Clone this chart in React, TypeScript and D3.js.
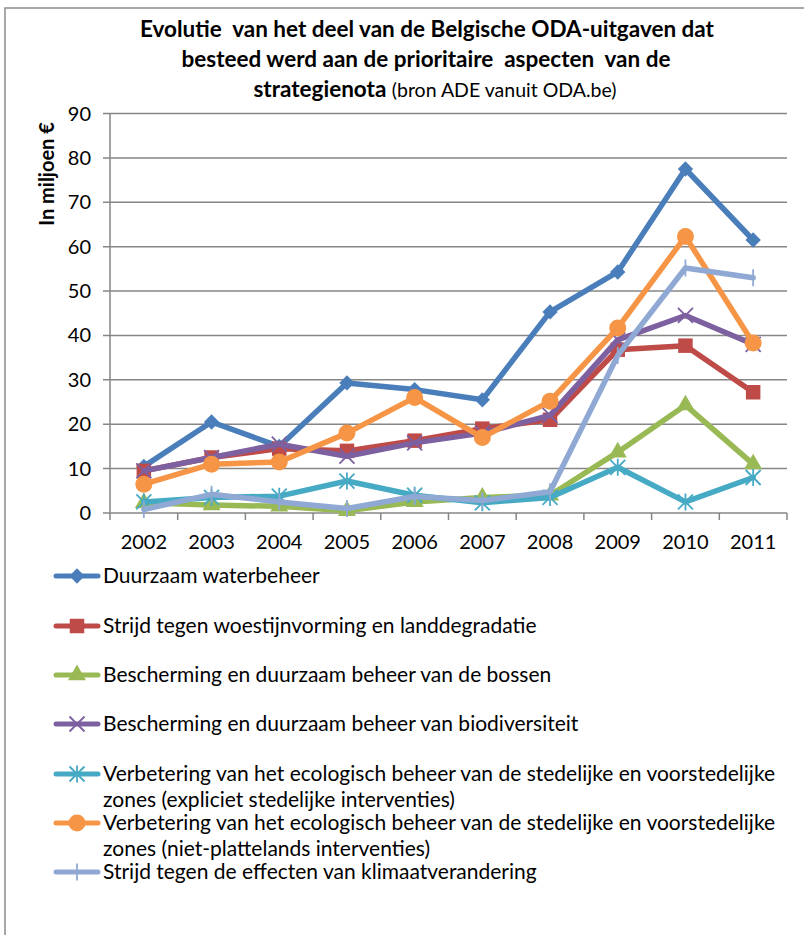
import React, { useEffect, useRef } from "react";
import * as d3 from "d3";

const years = ["2002", "2003", "2004", "2005", "2006", "2007", "2008", "2009", "2010", "2011"];
const yTicks = [0, 10, 20, 30, 40, 50, 60, 70, 80, 90];

const waterbeheer = [10.5, 20.5, 15, 29.3, 27.8, 25.5, 45.3, 54.3, 77.5, 61.5];
const woestijnvorming = [9.5, 12.5, 14.5, 14, 16.3, 19, 21, 36.8, 37.7, 27.2];
const bossen = [2.3, 1.8, 1.5, 0.5, 2.5, 3.5, 4, 13.7, 24.3, 11];
const biodiversiteit = [9.5, 12.5, 15.5, 12.8, 15.8, 18, 22, 39, 44.5, 38];
const stedelijk = [2.5, 3.5, 3.8, 7.2, 4, 2.3, 3.5, 10.3, 2.5, 8];
const nietPlatteland = [6.5, 11, 11.5, 18, 26, 17, 25.2, 41.7, 62.3, 38.3];
const klimaat = [0.8, 4.2, 2.5, 1, 3.7, 2.8, 4.8, 35.5, 55.2, 53];

const seriesNames = [
  ["Duurzaam waterbeheer"],
  ["Strijd tegen woestijnvorming en landdegradatie"],
  ["Bescherming en duurzaam beheer van de bossen"],
  ["Bescherming en duurzaam beheer van biodiversiteit"],
  ["Verbetering van het ecologisch beheer van de stedelijke en voorstedelijke", "zones (expliciet stedelijke interventies)"],
  ["Verbetering van het ecologisch beheer van de stedelijke en voorstedelijke", "zones (niet-plattelands interventies)"],
  ["Strijd tegen de effecten van klimaatverandering"],
];
const seriesValues = [waterbeheer, woestijnvorming, bossen, biodiversiteit, stedelijk, nietPlatteland, klimaat];
const seriesColors = ["#4A7EBB", "#BE4B48", "#98B954", "#7D60A0", "#46AAC5", "#F69545", "#8FA9D4"];
const seriesMarkers = ["diamond", "square", "triangle", "x", "star", "circle", "plus"];

const FONT = "Lato, 'Open Sans', sans-serif";

function drawMarker(g: any, kind: string, cx: number, cy: number, color: string) {
  const s = g.append("g").attr("transform", `translate(${cx},${cy})`);
  if (kind === "diamond") {
    s.append("path").attr("d", d3.symbol(d3.symbolDiamond2, 150)()).attr("fill", color);
  } else if (kind === "square") {
    s.append("path").attr("d", d3.symbol(d3.symbolSquare, 210)()).attr("fill", color);
  } else if (kind === "triangle") {
    s.append("path").attr("d", d3.symbol(d3.symbolTriangle, 140)()).attr("fill", color);
  } else if (kind === "circle") {
    s.append("circle").attr("r", 8.5).attr("fill", color);
  } else if (kind === "x") {
    s.append("path").attr("d", "M-7.5,-7.5L7.5,7.5M-7.5,7.5L7.5,-7.5").attr("stroke", color).attr("stroke-width", 1.8);
  } else if (kind === "star") {
    s.append("path").attr("d", "M-7.5,-7.5L7.5,7.5M-7.5,7.5L7.5,-7.5M0,-8.5L0,8.5").attr("stroke", color).attr("stroke-width", 1.8);
  } else if (kind === "plus") {
    s.append("path").attr("d", "M0,-8.5L0,8.5").attr("stroke", color).attr("stroke-width", 1.8);
  }
}

export default function App() {
  const ref = useRef<SVGSVGElement>(null);

  useEffect(() => {
    const svg = d3.select(ref.current);
    svg.selectAll("*").remove();
    const width = 804;
    const height = 935;
    svg.attr("width", width).attr("height", height).style("font-family", FONT);

    svg.append("rect").attr("width", width).attr("height", height).attr("fill", "#fff");
    // chart frame: only left and top edges are inside the crop
    svg.append("path").attr("d", `M5,${height}L5,8L${width},8`)
      .attr("fill", "none").attr("stroke", "#8c8c8c").attr("stroke-width", 1.5);

    // title
    const title = svg.append("text").attr("text-anchor", "middle").attr("fill", "#000")
      .attr("font-weight", "bold").attr("font-size", 22.5).style("white-space", "pre");
    title.append("tspan").attr("x", 427).attr("y", 37).text("Evolutie  van het deel van de Belgische ODA-uitgaven dat");
    title.append("tspan").attr("x", 426).attr("y", 67).text("besteed werd aan de prioritaire  aspecten  van de");
    const t3 = title.append("tspan").attr("x", 435).attr("y", 97);
    t3.append("tspan").text("strategienota ");
    t3.append("tspan").attr("font-weight", "normal").attr("font-size", 19.5).text("(bron ADE vanuit ODA.be)");

    const left = 110, right = 787, top = 113.5, bottom = 513;
    const x = d3.scaleBand().domain(years).range([left, right]).padding(0);
    const y = d3.scaleLinear().domain([0, 90]).range([bottom, top]);
    const cx = (d: string) => (x(d) as number) + x.bandwidth() / 2;

    // gridlines
    svg.append("g").selectAll("line").data(yTicks).join("line")
      .attr("x1", left - 7).attr("x2", right).attr("y1", (d) => y(d)).attr("y2", (d) => y(d))
      .attr("stroke", "#868686").attr("stroke-width", 1.5);
    // axes
    svg.append("line").attr("x1", left).attr("x2", left).attr("y1", top).attr("y2", bottom)
      .attr("stroke", "#868686").attr("stroke-width", 1.5);
    const xBoundaries = years.map((d) => x(d) as number).concat([right]);
    svg.append("g").selectAll("line").data(xBoundaries).join("line")
      .attr("x1", (d) => d).attr("x2", (d) => d).attr("y1", bottom).attr("y2", bottom + 7)
      .attr("stroke", "#868686").attr("stroke-width", 1.5);

    svg.append("g").selectAll("text").data(yTicks).join("text")
      .attr("x", 91).attr("y", (d) => y(d) + 7).attr("text-anchor", "end")
      .attr("font-size", 20).attr("fill", "#000").text((d) => d);
    svg.append("g").selectAll("text").data(years).join("text")
      .attr("x", (d) => cx(d)).attr("y", 549).attr("text-anchor", "middle")
      .attr("font-size", 20).attr("fill", "#000").text((d) => d);

    svg.append("text").attr("transform", "translate(54,174) rotate(-90)").attr("text-anchor", "middle")
      .attr("font-size", 20).attr("font-weight", "bold").attr("fill", "#000").text("In miljoen €");

    // series
    const line = d3.line<number>().x((_, i) => cx(years[i])).y((d) => y(d));
    seriesValues.forEach((vals, si) => {
      const g = svg.append("g");
      g.append("path").attr("d", line(vals)).attr("fill", "none").attr("stroke", seriesColors[si])
        .attr("stroke-width", 5.5).attr("stroke-linejoin", "round").attr("stroke-linecap", "round");
      vals.forEach((v, i) => drawMarker(g, seriesMarkers[si], cx(years[i]), y(v), seriesColors[si]));
    });

    // legend
    const legendY = [576, 626, 675, 724, 774, 823, 872];
    seriesNames.forEach((lines, si) => {
      const g = svg.append("g");
      const ly = legendY[si];
      g.append("line").attr("x1", 56).attr("x2", 98).attr("y1", ly).attr("y2", ly)
        .attr("stroke", seriesColors[si]).attr("stroke-width", 5).attr("stroke-linecap", "round");
      drawMarker(g, seriesMarkers[si], 77, ly, seriesColors[si]);
      lines.forEach((t, li) => {
        g.append("text").attr("x", 103).attr("y", ly + 7 + li * 26).attr("font-size", 21)
          .attr("fill", "#000").text(t);
      });
    });
  }, []);

  return <svg ref={ref} style={{ display: "block", position: "absolute", left: 0, top: 0 }} />;
}
